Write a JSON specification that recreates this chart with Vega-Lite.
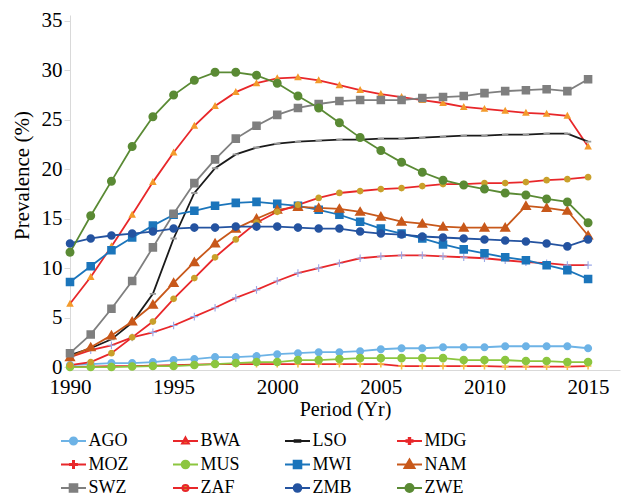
{
  "$schema": "https://vega.github.io/schema/vega-lite/v6.json",
  "width": 550,
  "height": 355,
  "autosize": {"type": "none"},
  "padding": {"left": 70, "top": 15, "right": 1, "bottom": 129},
  "background": "white",
  "config": {
    "view": {"stroke": null},
    "font": "Liberation Serif, Times New Roman, serif"
  },
  "data": {
    "values": [
      {"year": 1990, "AGO": 0.2, "BWA": 6.4, "LSO": 1.2, "MDG": 0.0, "MOZ": 1.0, "MUS": 0.0, "MWI": 8.6, "NAM": 1.0, "SWZ": 1.4, "ZAF": 0.2, "ZMB": 12.5, "ZWE": 11.6},
      {"year": 1991, "AGO": 0.3, "BWA": 9.1, "LSO": 1.9, "MDG": 0.05, "MOZ": 1.7, "MUS": 0.0, "MWI": 10.2, "NAM": 2.0, "SWZ": 3.3, "ZAF": 0.5, "ZMB": 13.0, "ZWE": 15.3},
      {"year": 1992, "AGO": 0.4, "BWA": 12.2, "LSO": 2.8, "MDG": 0.1, "MOZ": 2.2, "MUS": 0.0, "MWI": 11.8, "NAM": 3.2, "SWZ": 5.9, "ZAF": 1.4, "ZMB": 13.3, "ZWE": 18.8},
      {"year": 1993, "AGO": 0.4, "BWA": 15.4, "LSO": 4.5, "MDG": 0.1, "MOZ": 3.0, "MUS": 0.05, "MWI": 13.1, "NAM": 4.6, "SWZ": 8.7, "ZAF": 3.0, "ZMB": 13.5, "ZWE": 22.3},
      {"year": 1994, "AGO": 0.5, "BWA": 18.7, "LSO": 7.4, "MDG": 0.15, "MOZ": 3.5, "MUS": 0.1, "MWI": 14.3, "NAM": 6.3, "SWZ": 12.1, "ZAF": 4.6, "ZMB": 13.7, "ZWE": 25.3},
      {"year": 1995, "AGO": 0.7, "BWA": 21.7, "LSO": 13.0, "MDG": 0.2, "MOZ": 4.2, "MUS": 0.1, "MWI": 15.4, "NAM": 8.5, "SWZ": 15.5, "ZAF": 6.9, "ZMB": 14.0, "ZWE": 27.5},
      {"year": 1996, "AGO": 0.8, "BWA": 24.4, "LSO": 17.6, "MDG": 0.25, "MOZ": 5.1, "MUS": 0.2, "MWI": 15.8, "NAM": 10.6, "SWZ": 18.6, "ZAF": 9.0, "ZMB": 14.1, "ZWE": 29.0},
      {"year": 1997, "AGO": 1.0, "BWA": 26.4, "LSO": 20.1, "MDG": 0.3, "MOZ": 6.0, "MUS": 0.3, "MWI": 16.3, "NAM": 12.5, "SWZ": 21.0, "ZAF": 11.1, "ZMB": 14.1, "ZWE": 29.8},
      {"year": 1998, "AGO": 1.0, "BWA": 27.8, "LSO": 21.5, "MDG": 0.3, "MOZ": 7.0, "MUS": 0.4, "MWI": 16.6, "NAM": 14.0, "SWZ": 23.1, "ZAF": 12.9, "ZMB": 14.2, "ZWE": 29.8},
      {"year": 1999, "AGO": 1.1, "BWA": 28.7, "LSO": 22.2, "MDG": 0.3, "MOZ": 7.8, "MUS": 0.5, "MWI": 16.7, "NAM": 15.0, "SWZ": 24.4, "ZAF": 14.6, "ZMB": 14.2, "ZWE": 29.5},
      {"year": 2000, "AGO": 1.3, "BWA": 29.2, "LSO": 22.6, "MDG": 0.3, "MOZ": 8.7, "MUS": 0.5, "MWI": 16.5, "NAM": 15.9, "SWZ": 25.5, "ZAF": 15.7, "ZMB": 14.2, "ZWE": 28.7},
      {"year": 2001, "AGO": 1.4, "BWA": 29.3, "LSO": 22.8, "MDG": 0.3, "MOZ": 9.5, "MUS": 0.7, "MWI": 16.3, "NAM": 16.2, "SWZ": 26.2, "ZAF": 16.4, "ZMB": 14.1, "ZWE": 27.4},
      {"year": 2002, "AGO": 1.5, "BWA": 29.0, "LSO": 22.9, "MDG": 0.3, "MOZ": 10.0, "MUS": 0.7, "MWI": 15.9, "NAM": 16.1, "SWZ": 26.6, "ZAF": 17.1, "ZMB": 14.0, "ZWE": 26.2},
      {"year": 2003, "AGO": 1.5, "BWA": 28.5, "LSO": 23.0, "MDG": 0.3, "MOZ": 10.5, "MUS": 0.8, "MWI": 15.4, "NAM": 16.0, "SWZ": 26.9, "ZAF": 17.6, "ZMB": 14.0, "ZWE": 24.7},
      {"year": 2004, "AGO": 1.6, "BWA": 28.0, "LSO": 23.0, "MDG": 0.3, "MOZ": 11.0, "MUS": 0.9, "MWI": 14.7, "NAM": 15.7, "SWZ": 27.0, "ZAF": 17.8, "ZMB": 13.7, "ZWE": 23.2},
      {"year": 2005, "AGO": 1.8, "BWA": 27.6, "LSO": 23.1, "MDG": 0.3, "MOZ": 11.2, "MUS": 0.9, "MWI": 14.0, "NAM": 15.2, "SWZ": 27.0, "ZAF": 18.0, "ZMB": 13.5, "ZWE": 21.9},
      {"year": 2006, "AGO": 1.9, "BWA": 27.3, "LSO": 23.1, "MDG": 0.1, "MOZ": 11.3, "MUS": 0.9, "MWI": 13.5, "NAM": 14.7, "SWZ": 27.0, "ZAF": 18.1, "ZMB": 13.4, "ZWE": 20.7},
      {"year": 2007, "AGO": 1.9, "BWA": 27.0, "LSO": 23.2, "MDG": 0.1, "MOZ": 11.3, "MUS": 0.9, "MWI": 13.0, "NAM": 14.5, "SWZ": 27.2, "ZAF": 18.3, "ZMB": 13.2, "ZWE": 19.7},
      {"year": 2008, "AGO": 2.0, "BWA": 26.7, "LSO": 23.3, "MDG": 0.1, "MOZ": 11.2, "MUS": 0.9, "MWI": 12.4, "NAM": 14.2, "SWZ": 27.3, "ZAF": 18.5, "ZMB": 13.1, "ZWE": 18.9},
      {"year": 2009, "AGO": 2.0, "BWA": 26.3, "LSO": 23.4, "MDG": 0.1, "MOZ": 11.1, "MUS": 0.7, "MWI": 11.9, "NAM": 14.1, "SWZ": 27.4, "ZAF": 18.5, "ZMB": 13.0, "ZWE": 18.4},
      {"year": 2010, "AGO": 2.0, "BWA": 26.1, "LSO": 23.4, "MDG": 0.1, "MOZ": 11.0, "MUS": 0.7, "MWI": 11.5, "NAM": 14.1, "SWZ": 27.7, "ZAF": 18.6, "ZMB": 12.9, "ZWE": 18.0},
      {"year": 2011, "AGO": 2.1, "BWA": 25.9, "LSO": 23.5, "MDG": 0.05, "MOZ": 10.8, "MUS": 0.7, "MWI": 11.1, "NAM": 14.1, "SWZ": 27.9, "ZAF": 18.6, "ZMB": 12.8, "ZWE": 17.6},
      {"year": 2012, "AGO": 2.1, "BWA": 25.7, "LSO": 23.5, "MDG": 0.05, "MOZ": 10.6, "MUS": 0.6, "MWI": 10.8, "NAM": 16.3, "SWZ": 28.0, "ZAF": 18.7, "ZMB": 12.7, "ZWE": 17.4},
      {"year": 2013, "AGO": 2.1, "BWA": 25.6, "LSO": 23.6, "MDG": 0.05, "MOZ": 10.5, "MUS": 0.6, "MWI": 10.3, "NAM": 16.1, "SWZ": 28.1, "ZAF": 18.9, "ZMB": 12.5, "ZWE": 17.0},
      {"year": 2014, "AGO": 2.1, "BWA": 25.4, "LSO": 23.6, "MDG": 0.05, "MOZ": 10.3, "MUS": 0.5, "MWI": 9.8, "NAM": 15.8, "SWZ": 27.9, "ZAF": 19.0, "ZMB": 12.2, "ZWE": 16.7},
      {"year": 2015, "AGO": 1.9, "BWA": 22.3, "LSO": 22.8, "MDG": 0.1, "MOZ": 10.3, "MUS": 0.5, "MWI": 8.9, "NAM": 13.3, "SWZ": 29.1, "ZAF": 19.2, "ZMB": 12.9, "ZWE": 14.6}
    ]
  },
  "transform": [
    {"fold": ["AGO", "BWA", "LSO", "MDG", "MOZ", "MUS", "MWI", "NAM", "SWZ", "ZAF", "ZMB", "ZWE"], "as": ["country", "value"]}
  ],
  "encoding": {
    "x": {
      "field": "year",
      "type": "quantitative",
      "scale": {"domain": [1990, 2016.54], "nice": false, "zero": false},
      "axis": {
        "values": [1990, 1995, 2000, 2005, 2010, 2015],
        "format": "d",
        "ticks": false,
        "grid": false,
        "domainColor": "#d9d9d9",
        "labelFont": "Liberation Serif, Times New Roman, serif",
        "labelFontSize": 21,
        "labelColor": "#000000",
        "labelPadding": 6,
        "labelFlush": false,
        "labelOverlap": false,
        "title": "Period (Yr)",
        "titleFont": "Liberation Serif, Times New Roman, serif",
        "titleFontSize": 20,
        "titleFontWeight": "normal",
        "titleColor": "#000000",
        "titlePadding": 2
      }
    },
    "y": {
      "field": "value",
      "type": "quantitative",
      "scale": {"domain": [-0.3, 35.6], "nice": false, "zero": false},
      "axis": {
        "values": [0, 5, 10, 15, 20, 25, 30, 35],
        "grid": false,
        "domainColor": "#d9d9d9",
        "tickColor": "#d9d9d9",
        "tickSize": 6,
        "labelFont": "Liberation Serif, Times New Roman, serif",
        "labelFontSize": 21,
        "labelColor": "#000000",
        "labelPadding": 2,
        "labelFlush": false,
        "title": "Prevalence (%)",
        "titleFont": "Liberation Serif, Times New Roman, serif",
        "titleFontSize": 21,
        "titleFontWeight": "normal",
        "titleColor": "#000000",
        "titlePadding": 9,
        "titleY": 160
      }
    }
  },
  "layer": [
    {
      "mark": {"type": "line", "strokeWidth": 1.8},
      "encoding": {
        "stroke": {
          "field": "country",
          "type": "nominal",
          "scale": {
            "domain": ["AGO", "BWA", "LSO", "MDG", "MOZ", "MUS", "MWI", "NAM", "SWZ", "ZAF", "ZMB", "ZWE"],
            "range": ["#6DB3E6", "#E8272A", "#1A1A1A", "#E8272A", "#E8272A", "#8CC63F", "#1B75BB", "#C8581A", "#7F7F7F", "#E8272A", "#2453A0", "#5A8A34"]
          },
          "legend": {
            "orient": "none", "legendX": -7.5, "legendY": 415, "columns": 4, "direction": "horizontal",
            "title": null, "symbolSize": 400, "symbolStrokeWidth": 2, "symbolOpacity": 1,
            "symbolFillColor": "#ffffff", "labelFont": "Liberation Serif, Times New Roman, serif", "labelFontSize": 18,
            "labelColor": "#000000", "labelOffset": 4, "columnPadding": 37, "rowPadding": 3.5,
            "gridAlign": "all", "padding": 0
          }
        }
      }
    },
    {
      "mark": {"type": "point", "filled": true, "opacity": 1, "size": 506},
      "encoding": {
        "fill": {
          "field": "country",
          "type": "nominal",
          "scale": {
            "domain": ["AGO", "BWA", "LSO", "MDG", "MOZ", "MUS", "MWI", "NAM", "SWZ", "ZAF", "ZMB", "ZWE"],
            "range": ["#6DB3E6", "#F39A2B", "#9A9A9A", "#F5C242", "#9AA8E8", "#8CC63F", "#1B75BB", "#C8581A", "#7F7F7F", "#C9A02A", "#2453A0", "#5A8A34"]
          },
          "legend": {
            "orient": "none", "legendX": -7.5, "legendY": 415, "columns": 4, "direction": "horizontal",
            "title": null, "symbolSize": 400, "symbolStrokeWidth": 2, "symbolOpacity": 1,
            "symbolFillColor": "#ffffff", "labelFont": "Liberation Serif, Times New Roman, serif", "labelFontSize": 18,
            "labelColor": "#000000", "labelOffset": 4, "columnPadding": 37, "rowPadding": 3.5,
            "gridAlign": "all", "padding": 0
          }
        },
        "shape": {
          "field": "country",
          "type": "nominal",
          "scale": {
            "domain": ["AGO", "BWA", "LSO", "MDG", "MOZ", "MUS", "MWI", "NAM", "SWZ", "ZAF", "ZMB", "ZWE"],
            "range": [
              "M-1.25,0H1.25M0.36,0A0.36,0.36,0,1,1,-0.36,0A0.36,0.36,0,1,1,0.36,0Z",
              "M-1.25,0H1.25M0,-0.36L0.34,0.26L-0.34,0.26Z",
              "M-1.25,0H1.25M-0.28,-0.08H0.28V0.08H-0.28Z",
              "M-1.25,0H1.25M-0.07,-0.3H0.07V-0.07H0.3V0.07H0.07V0.3H-0.07V0.07H-0.3V-0.07H-0.07Z",
              "M-1.25,0H1.25M-0.05,-0.34H0.05V-0.05H0.34V0.05H0.05V0.34H-0.05V0.05H-0.34V-0.05H-0.05Z",
              "M-1.25,0H1.25M0.38,0A0.38,0.38,0,1,1,-0.38,0A0.38,0.38,0,1,1,0.38,0Z",
              "M-1.25,0H1.25M-0.38,-0.38H0.38V0.38H-0.38Z",
              "M-1.25,0H1.25M0,-0.5L0.5,0.36L-0.5,0.36Z",
              "M-1.25,0H1.25M-0.38,-0.38H0.38V0.38H-0.38Z",
              "M-1.25,0H1.25M0.3,0A0.3,0.3,0,1,1,-0.3,0A0.3,0.3,0,1,1,0.3,0Z",
              "M-1.25,0H1.25M0.38,0A0.38,0.38,0,1,1,-0.38,0A0.38,0.38,0,1,1,0.38,0Z",
              "M-1.25,0H1.25M0.4,0A0.4,0.4,0,1,1,-0.4,0A0.4,0.4,0,1,1,0.4,0Z"
            ]
          },
          "legend": {
            "orient": "none", "legendX": -7.5, "legendY": 415, "columns": 4, "direction": "horizontal",
            "title": null, "symbolSize": 400, "symbolStrokeWidth": 2, "symbolOpacity": 1,
            "symbolFillColor": "#ffffff", "labelFont": "Liberation Serif, Times New Roman, serif", "labelFontSize": 18,
            "labelColor": "#000000", "labelOffset": 4, "columnPadding": 37, "rowPadding": 3.5,
            "gridAlign": "all", "padding": 0
          }
        }
      }
    }
  ]
}
